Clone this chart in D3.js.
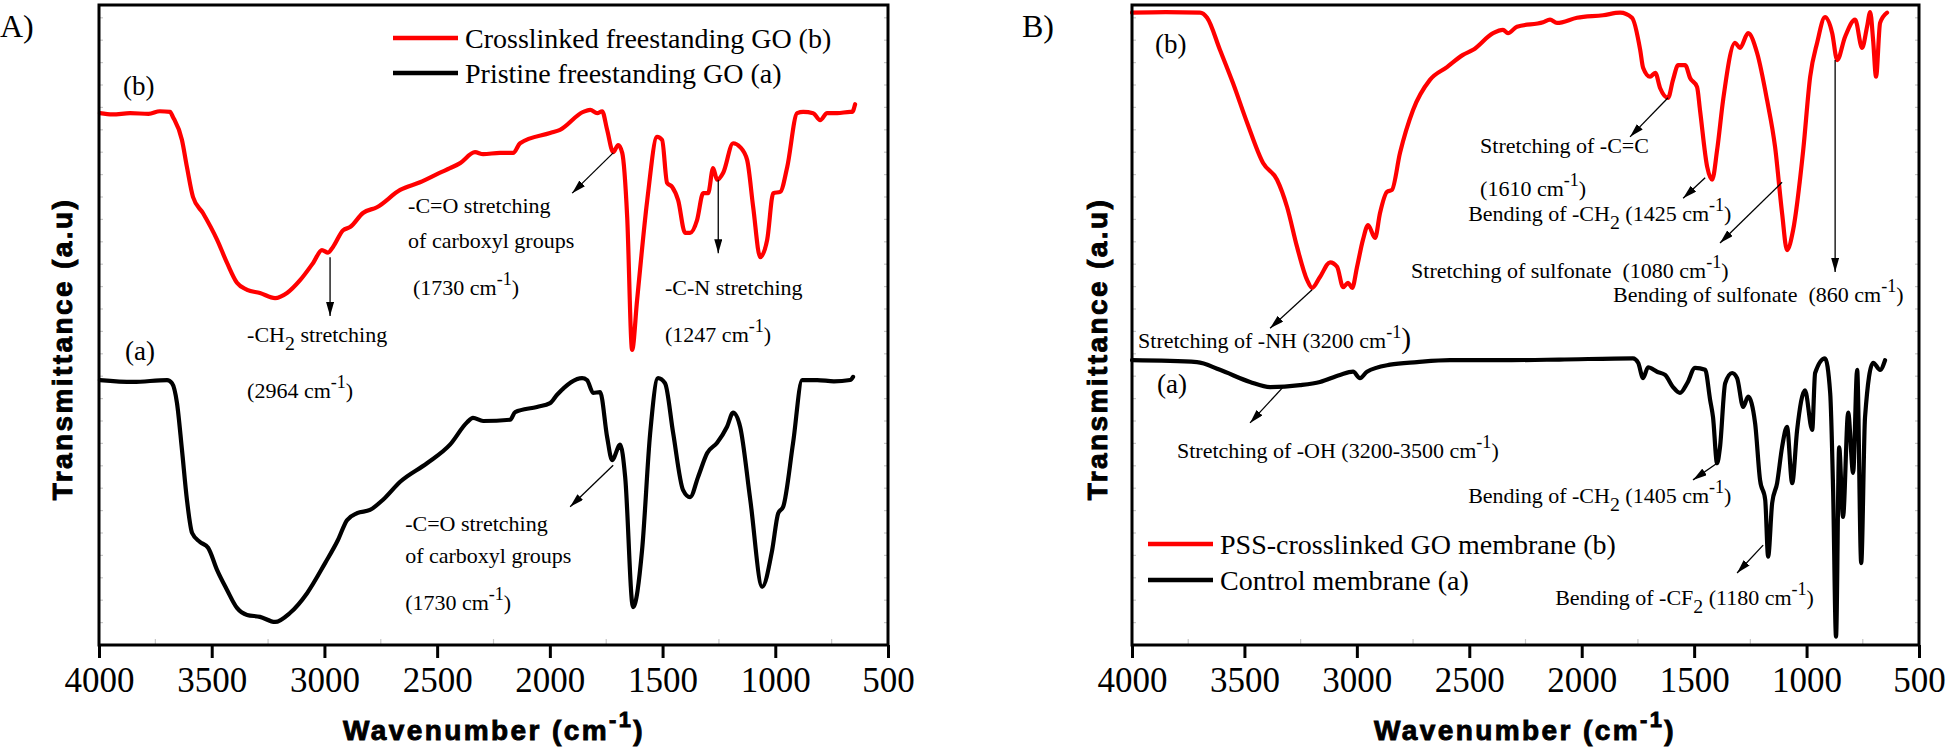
<!DOCTYPE html>
<html><head><meta charset="utf-8">
<script src="https://cdn.jsdelivr.net/npm/d3@7"></script>
<style>body{margin:0;background:#fff}svg{display:block}</style>
</head><body>
<svg id="chart" width="1952" height="748"></svg>
<script>
// ---------------- DATA ----------------
const xTicks = [4000, 3500, 3000, 2500, 2000, 1500, 1000, 500];
const xMinorTicks = [3750, 3250, 2750, 2250, 1750, 1250, 750];

// Panel A – Crosslinked freestanding GO (b), red
const aRedWn = [3996,3940,3862,3780,3730,3685,3672,3632,3610,3583,3539,3476,3432,3388,3343,3286,3219,3166,3108,3050,3011,2984,2962,2917,2886,2829,2767,2664,2576,2487,2443,2398,2332,2296,2221,2163,2132,1999,1955,1852,1821,1790,1768,1746,1719,1697,1679,1657,1635,1613,1568,1524,1502,1480,1458,1431,1400,1378,1347,1320,1298,1276,1258,1231,1187,1156,1125,1098,1067,1036,1009,978,947,903,876,832,801,770,725,668,659,646];
const aRedT = [83.1,82.9,83.1,83.0,83.4,83.3,82.5,78.9,74.7,70.0,67.5,63.3,59.7,56.6,55.5,55.0,54.2,55.0,57.0,59.7,61.7,61.3,62.2,64.8,65.3,67.5,68.4,71.1,72.3,73.8,74.5,75.3,77.0,76.7,76.9,76.9,78.4,80.0,80.5,83.3,83.6,83.1,83.4,80.5,77.0,78.1,76.9,66.9,46.1,53.9,69.5,79.4,78.9,72.2,71.6,69.5,64.4,64.4,66.4,70.6,70.6,74.5,72.7,73.8,78.4,77.8,75.8,68.4,60.6,63.3,70.6,70.8,74.7,83.1,83.3,83.1,82.0,83.1,83.1,83.3,83.3,84.5];

// Panel A – Pristine freestanding GO (a), black
const aBlkWn = [3996,3849,3698,3676,3654,3632,3610,3587,3552,3516,3476,3432,3388,3343,3286,3219,3153,3077,2997,2940,2900,2855,2798,2740,2664,2545,2443,2367,2341,2296,2176,2154,2057,1999,1968,1857,1835,1808,1777,1746,1724,1688,1666,1631,1591,1555,1520,1489,1453,1409,1378,1342,1302,1258,1214,1187,1156,1111,1058,1014,987,965,921,881,814,740,668,655];
const aBlkT = [41.4,41.1,41.4,40.9,37.8,30.5,22.7,17.5,16.1,15.2,11.7,8.6,5.8,4.7,4.4,3.6,5.0,8.1,12.8,16.4,19.5,20.6,21.1,22.7,25.5,28.4,31.3,34.8,35.5,35.0,35.2,36.4,37.2,37.8,39.1,41.7,41.4,39.4,39.5,32.5,28.9,31.3,26.3,5.9,14.8,33.1,41.7,40.9,33.1,24.2,23.1,26.3,30.0,31.6,34.1,36.3,34.1,22.7,9.1,14.8,20.6,21.6,31.6,41.4,41.4,41.2,41.4,41.9];

// Panel B – PSS-crosslinked GO membrane (b), red
const bRedWn = [4000,3850,3698,3666,3609,3551,3488,3417,3355,3310,3266,3221,3199,3164,3119,3088,3061,3039,3021,2999,2973,2950,2919,2897,2866,2844,2808,2750,2675,2599,2528,2483,2394,2350,2328,2288,2172,2141,2110,2021,1905,1829,1776,1740,1727,1696,1673,1651,1616,1594,1571,1540,1518,1487,1474,1442,1420,1398,1371,1318,1296,1260,1220,1176,1140,1109,1087,1060,1015,984,953,918,886,864,829,784,753,731,717,704,691,673,642];
const bRedT = [98.8,98.9,98.8,98.0,93.0,87.8,81.6,75.3,72.7,68.4,62.2,57.0,55.8,57.5,59.8,59.1,55.9,56.6,55.8,59.1,63.3,65.6,63.6,67.5,70.8,71.1,76.9,83.6,88.3,90.3,92.2,93.0,95.6,96.1,95.6,96.6,97.3,97.7,97.2,98.0,98.4,98.8,98.0,93.0,90.2,88.8,89.4,87.0,85.5,88.3,90.6,90.6,88.6,87.2,83.6,74.7,72.7,77.3,85.2,94.1,93.3,95.6,92.5,85.2,77.8,67.5,61.7,64.8,77.3,88.8,94.1,98.1,95.6,91.4,95.0,97.7,93.3,96.6,98.9,94.5,88.8,97.2,98.8];

// Panel B – Control membrane (a), black
const bBlkWn = [4000,3711,3609,3475,3386,3253,3164,3075,3017,2986,2955,2852,2732,2586,2363,2100,1772,1749,1727,1705,1665,1629,1594,1563,1531,1496,1451,1429,1416,1398,1385,1362,1331,1309,1282,1260,1229,1207,1184,1171,1153,1131,1109,1087,1064,1042,1007,975,962,918,895,882,869,855,838,815,793,775,757,740,704,673,651];
const bBlkT = [44.5,44.2,43.0,41.1,40.3,40.6,41.1,42.2,42.7,41.7,42.7,43.8,44.2,44.5,44.5,44.6,44.8,44.1,41.7,43.4,42.7,42.2,40.3,39.4,40.9,43.3,43.0,38.3,35.6,28.4,30.9,40.9,42.5,41.7,37.2,38.8,34.7,25.8,22.7,13.8,22.2,25.3,30.9,34.1,25.3,33.6,39.8,33.6,42.5,44.8,39.4,24.2,1.3,30.9,20.0,36.3,26.9,43.0,12.8,35.6,44.1,43.0,44.5];

const legendA = ["Crosslinked freestanding GO (b)", "Pristine freestanding GO (a)"];
const legendB = ["PSS-crosslinked GO membrane (b)", "Control membrane (a)"];

// ---------------- LAYOUT / STYLE ----------------
const SERIF = "'Liberation Serif','Times New Roman',serif";
const SANS = "'Liberation Sans',Arial,sans-serif";
const RED = "#ff0000";
const TOP = 5, BOTTOM = 645;

const svg = d3.select("#chart");
const defs = svg.append("defs");
defs.append("marker").attr("id", "arr").attr("viewBox", "0 0 14 8")
  .attr("refX", 14).attr("refY", 4).attr("markerWidth", 14).attr("markerHeight", 8)
  .attr("markerUnits", "userSpaceOnUse").attr("orient", "auto")
  .append("path").attr("d", "M0,0L14,4L0,8z").attr("fill", "#000");

function rich(g, x, y, parts, size, opts = {}) {
  const t = g.append("text").attr("x", x).attr("y", y)
    .attr("font-family", opts.family || SERIF).attr("font-size", size)
    .style("white-space", "pre").attr("fill", "#000");
  if (opts.anchor) t.attr("text-anchor", opts.anchor);
  if (opts.weight) t.attr("font-weight", opts.weight);
  if (opts.spacing) t.attr("letter-spacing", opts.spacing);
  if (opts.stroke) t.attr("stroke", "#000").attr("stroke-width", opts.stroke);
  if (opts.transform) t.attr("transform", opts.transform);
  let cur = 0;
  parts.forEach(p => {
    let str, shift = 0, fs = null;
    if (typeof p === "string") str = p;
    else if (p.sup !== undefined) { str = p.sup; shift = -(p.raise || 0.45) * size; fs = size * (p.scale || 0.82); }
    else if (p.sub !== undefined) { str = p.sub; shift = (p.drop || 0.36) * size; fs = size * 0.9; }
    else if (p.big !== undefined) { str = p.big; fs = size * p.scale; shift = (p.raise ? -p.raise * size : 0); }
    const ts = t.append("tspan").text(str).attr("dy", shift - cur);
    if (fs) ts.attr("font-size", fs);
    cur = shift;
  });
  return t;
}

function drawPanel(P) {
  const g = svg.append("g");
  const x = d3.scaleLinear().domain([4000, 500]).range([P.left, P.right]);
  const y = d3.scaleLinear().domain([0, 100]).range([BOTTOM, TOP]);

  // faint minor ticks
  const fg = g.append("g").attr("stroke", "#c8c8c8").attr("stroke-width", 1.2);
  xMinorTicks.forEach(v => fg.append("line").attr("x1", x(v)).attr("x2", x(v)).attr("y1", BOTTOM).attr("y2", BOTTOM - 6));
  d3.range(0, 100, 3.5).forEach(v => {
    fg.append("line").attr("x1", P.left).attr("x2", P.left + 4).attr("y1", y(v)).attr("y2", y(v));
    fg.append("line").attr("x1", P.right).attr("x2", P.right - 4).attr("y1", y(v)).attr("y2", y(v));
  });

  // curves
  const line = d3.line().x(d => x(d[0])).y(d => y(d[1])).curve(d3.curveMonotoneX);
  P.series.forEach(s => {
    g.append("path").datum(d3.zip(s.wn, s.t)).attr("d", line)
      .attr("fill", "none").attr("stroke", s.color).attr("stroke-width", 4.2)
      .attr("stroke-linejoin", "round").attr("stroke-linecap", "round");
  });

  // frame
  g.append("rect").attr("x", P.left).attr("y", TOP).attr("width", P.right - P.left).attr("height", BOTTOM - TOP)
    .attr("fill", "none").attr("stroke", "#000").attr("stroke-width", 3);

  // bottom axis
  const ax = g.append("g").attr("transform", `translate(0,${BOTTOM})`)
    .call(d3.axisBottom(x).tickValues(xTicks).tickSize(13).tickSizeOuter(0).tickPadding(9).tickFormat(d3.format("d")));
  ax.select(".domain").remove();
  ax.attr("font-family", SERIF);
  ax.selectAll(".tick line").attr("stroke", "#000").attr("stroke-width", 3);
  ax.selectAll(".tick text").attr("font-family", SERIF).attr("font-size", 35).attr("fill", "#000");

  // axis titles
  rich(g, P.xTitleX, 740, ["Wavenumber (cm", { sup: "-1", raise: 0.45, scale: 0.78 }, ")"], 28,
    { family: SANS, weight: "bold", anchor: "middle", spacing: 2.4, stroke: 0.9 });
  rich(g, 0, 0, ["Transmittance (a.u)"], 28,
    { family: SANS, weight: "bold", anchor: "middle", spacing: 2.4, stroke: 0.9,
      transform: `translate(${P.yTitleX},349) rotate(-90)` });

  // panel label
  rich(g, P.labelX, 37, [P.label], 32);

  // annotations
  P.notes.forEach(n => rich(g, x(n.wn), y(n.t), n.parts, 22));
  P.arrows.forEach(a => g.append("line")
    .attr("x1", x(a[0])).attr("y1", y(a[1])).attr("x2", x(a[2])).attr("y2", y(a[3]))
    .attr("stroke", "#000").attr("stroke-width", 1.3).attr("marker-end", "url(#arr)"));
  P.tags.forEach(n => rich(g, x(n.wn), y(n.t), [n.text], 27));

  // legend
  P.legend.forEach((txt, i) => {
    const ly = P.legY + i * P.legGap;
    g.append("line").attr("x1", P.legX).attr("x2", P.legX + 65).attr("y1", ly).attr("y2", ly)
      .attr("stroke", i === 0 ? RED : "#000").attr("stroke-width", 4.5);
    rich(g, P.legX + 72, ly + 10, [txt], 28);
  });
}

const CM = (num) => ["(" + num + " cm", { sup: "-1" }, ")"];

drawPanel({
  left: 99, right: 888, label: "A)", labelX: 0, xTitleX: 494, yTitleX: 72,
  series: [{ wn: aRedWn, t: aRedT, color: RED }, { wn: aBlkWn, t: aBlkT, color: "#000" }],
  legend: legendA, legX: 393, legY: 38, legGap: 35,
  tags: [{ wn: 3894, t: 85.9, text: "(b)" }, { wn: 3885, t: 44.5, text: "(a)" }],
  notes: [
    { wn: 3343, t: 47.3, parts: ["-CH", { sub: "2" }, " stretching"] },
    { wn: 3343, t: 38.6, parts: CM(2964) },
    { wn: 2629, t: 67.5, parts: ["-C=O stretching"] },
    { wn: 2629, t: 62.0, parts: ["of carboxyl groups"] },
    { wn: 2607, t: 54.7, parts: CM(1730) },
    { wn: 1489, t: 54.7, parts: ["-C-N stretching"] },
    { wn: 1489, t: 47.3, parts: CM(1247) },
    { wn: 2642, t: 17.8, parts: ["-C=O stretching"] },
    { wn: 2642, t: 12.8, parts: ["of carboxyl groups"] },
    { wn: 2642, t: 5.5, parts: CM(1730) }
  ],
  arrows: [
    [2975, 60.6, 2975, 51.4],
    [1719, 76.9, 1901, 70.6],
    [1253, 72.7, 1253, 61.2],
    [1719, 28.1, 1910, 21.6]
  ]
});

drawPanel({
  left: 1132, right: 1919, label: "B)", labelX: 1022, xTitleX: 1525, yTitleX: 1107,
  series: [{ wn: bRedWn, t: bRedT, color: RED }, { wn: bBlkWn, t: bBlkT, color: "#000" }],
  legend: legendB, legX: 1148, legY: 544, legGap: 36,
  tags: [{ wn: 3898, t: 92.5, text: "(b)" }, { wn: 3889, t: 39.4, text: "(a)" }],
  notes: [
    { wn: 3973, t: 46.4, parts: ["Stretching of -NH (3200 cm", { sup: "-1" }, { big: ")", scale: 1.35 }] },
    { wn: 3800, t: 29.2, parts: ["Stretching of -OH (3200-3500 cm", { sup: "-1" }, ")"] },
    { wn: 2452, t: 76.9, parts: ["Stretching of -C=C"] },
    { wn: 2452, t: 70.2, parts: CM(1610) },
    { wn: 2505, t: 66.2, parts: ["Bending of -CH", { sub: "2" }, " (1425 cm", { sup: "-1" }, ")"] },
    { wn: 2759, t: 57.3, parts: ["Stretching of sulfonate  (1080 cm", { sup: "-1" }, ")"] },
    { wn: 1861, t: 53.6, parts: ["Bending of sulfonate  (860 cm", { sup: "-1" }, ")"] },
    { wn: 2505, t: 22.2, parts: ["Bending of -CH", { sub: "2" }, " (1405 cm", { sup: "-1" }, ")"] },
    { wn: 2118, t: 6.25, parts: ["Bending of -CF", { sub: "2" }, " (1180 cm", { sup: "-1" }, ")"] }
  ],
  arrows: [
    [3199, 55.5, 3386, 49.5],
    [3328, 40.3, 3475, 34.7],
    [1616, 85.5, 1785, 79.4],
    [1451, 73.0, 1549, 69.8],
    [1109, 72.3, 1385, 62.8],
    [873, 91.4, 873, 58.3],
    [1398, 28.4, 1505, 25.8],
    [1193, 15.6, 1309, 11.25]
  ]
});
</script>
</body></html>
